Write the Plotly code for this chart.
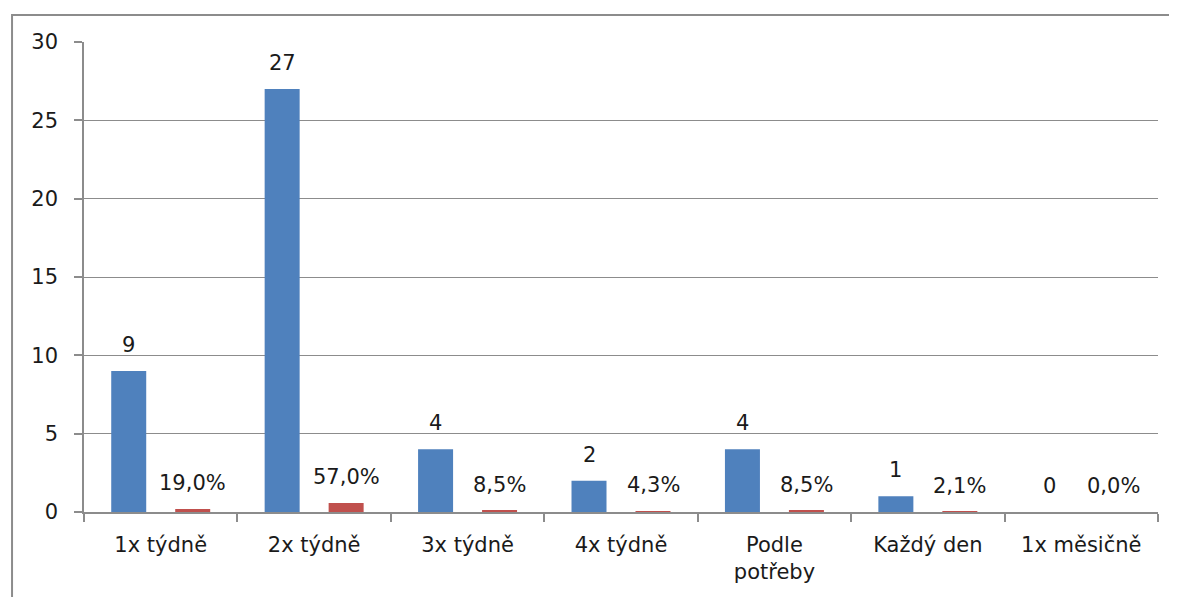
import plotly.graph_objects as go

categories = ["1x týdně", "2x týdně", "3x týdně", "4x týdně", "Podle<br>potřeby", "Každý den", "1x měsičně"]
counts = [9, 27, 4, 2, 4, 1, 0]
shares = [0.19, 0.57, 0.085, 0.043, 0.085, 0.021, 0.0]
count_labels = [str(v) for v in counts]
share_labels = ["19,0%", "57,0%", "8,5%", "4,3%", "8,5%", "2,1%", "0,0%"]
y_ticks = [0, 5, 10, 15, 20, 25, 30]

FONT = "'DejaVu Sans', 'Open Sans', sans-serif"
TXT = "#1a1a1a"
FS = 21

fig = go.Figure()
fig.add_trace(go.Bar(
    x=categories, y=counts,
    marker=dict(color="#4F81BD", line=dict(width=0)),
    name="Počet",
))
fig.add_trace(go.Bar(
    x=categories, y=shares,
    marker=dict(color="#C0504D", line=dict(width=0)),
    name="Podíl",
))

annotations = []
for cat, v, lab in zip(categories, counts, count_labels):
    annotations.append(dict(x=cat, y=v, text=lab, showarrow=False, xref="x", yref="y",
                            xshift=-32, yshift=26, yanchor="middle",
                            font=dict(size=FS, family=FONT, color=TXT)))
for cat, v, lab in zip(categories, shares, share_labels):
    annotations.append(dict(x=cat, y=v, text=lab, showarrow=False, xref="x", yref="y",
                            xshift=32, yshift=26, yanchor="middle",
                            font=dict(size=FS, family=FONT, color=TXT)))

fig.update_layout(
    width=1177, height=597,
    margin=dict(l=76, r=27, t=34, b=93),
    barmode="group", bargap=0.166, bargroupgap=0.453,
    plot_bgcolor="white", paper_bgcolor="white",
    showlegend=False,
    font=dict(family=FONT, size=FS, color=TXT),
    annotations=annotations,
    xaxis=dict(
        showline=True, linecolor="#8c8c8c", linewidth=1.5,
        ticks="outside", ticklen=8, tickcolor="#8c8c8c", tickwidth=1.5,
        tickson="boundaries", showgrid=False,
        tickfont=dict(size=FS, family=FONT, color=TXT),
        ticklabelstandoff=13,
    ),
    yaxis=dict(
        range=[0, 30], tickvals=y_ticks,
        showline=True, linecolor="#8c8c8c", linewidth=1.5,
        ticks="outside", ticklen=8, tickcolor="#8c8c8c", tickwidth=1.5,
        showgrid=True, gridcolor="#8c8c8c", gridwidth=1,
        zeroline=False,
        tickfont=dict(size=FS, family=FONT, color=TXT),
        ticklabelstandoff=12,
    ),
    shapes=[dict(
        type="rect", xref="paper", yref="paper",
        x0=-0.067, x1=1.2, y0=-0.3, y1=1.0574,
        line=dict(color="#8c8c8c", width=2), fillcolor="rgba(0,0,0,0)",
        layer="below",
    )],
)

fig.write_html("out.html")
